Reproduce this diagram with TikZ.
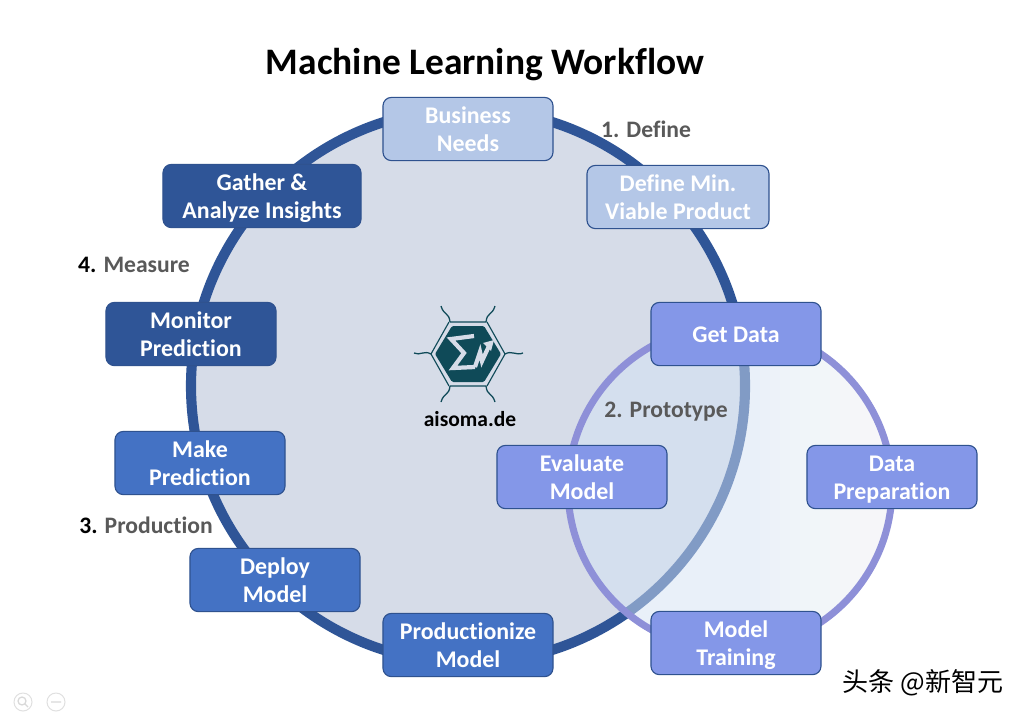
\documentclass[tikz,border=0pt]{standalone}
\usepackage{fontspec}
\setmainfont[Ligatures=NoCommon]{Carlito}
\newfontfamily\cjkfont{Noto Sans CJK SC}
\usetikzlibrary{positioning}
\definecolor{ringdark}{HTML}{2F5597}
\definecolor{bigfill}{HTML}{D6DCE8}
\definecolor{smallfill}{HTML}{D4E2F4}
\definecolor{ringlight}{HTML}{8E90D8}
\definecolor{stepedge}{HTML}{2F528F}
\definecolor{defstep}{HTML}{B4C7E7}
\definecolor{protostep}{HTML}{8497E8}
\definecolor{prodstep}{HTML}{4472C4}
\definecolor{measstep}{HTML}{2F5597}
\definecolor{phasegray}{HTML}{595959}
\definecolor{logoteal}{HTML}{0F4A58}
\tikzset{
  stepbox/.style={draw=stepedge,line width=0.8pt,rounded corners=6pt,minimum width=4.25cm,minimum height=1.58cm,
    inner sep=0pt,align=center,text=white,font=\fontsize{17}{20}\selectfont\bfseries,
    text height=32pt,text depth=0pt},
  phaselabel/.style={text=phasegray,inner sep=0pt,font=\fontsize{16.8}{20}\selectfont\bfseries},
}
\begin{document}
\begin{tikzpicture}[x=0.025cm,y=-0.025cm]
  \useasboundingbox (0,0) rectangle (1024,717);
  \fill[white] (0,0) rectangle (1024,717);

  \coordinate (bigc) at (468,386);
  \coordinate (smallc) at (730,488);

  % the two cycles
  \draw[ringdark,line width=7.2pt,fill=bigfill] (bigc) circle (277);
  \fill[smallfill,fill opacity=0.5] (smallc) circle (162);
  \begin{scope}
    \clip (smallc) circle (162);
    \foreach \xpos in {760,770,...,890}
      \fill[white,fill opacity=0.1] (\xpos,300) rectangle (900,680);
  \end{scope}
  \draw[ringlight,line width=5pt] (smallc) circle (162);

  \path
  (485,64.5) node[text=black,inner sep=0pt,font=\fontsize{26.6}{30}\selectfont\bfseries](title) {Machine Learning Workflow}
  (468,129) node[stepbox,fill=defstep](needs) {Business\\Needs}
  (678,197) node[stepbox,fill=defstep,minimum width=4.55cm](mvp) {Define Min.\\Viable Product}
  (736,334) node[stepbox,fill=protostep,text height=12.3pt](getdata) {Get Data}
  (892,477) node[stepbox,fill=protostep](dataprep) {Data\\Preparation}
  (736,643) node[stepbox,fill=protostep](training) {Model\\Training}
  (582,477) node[stepbox,fill=protostep](evaluate) {Evaluate\\Model}
  (468,645) node[stepbox,fill=prodstep](productionize) {Productionize\\Model}
  (275,580) node[stepbox,fill=prodstep](deploy) {Deploy\\Model}
  (200,463) node[stepbox,fill=prodstep](predict) {Make\\Prediction}
  (191,334) node[stepbox,fill=measstep](monitor) {Monitor\\Prediction}
  (262,196) node[stepbox,fill=measstep,minimum width=4.95cm](gather) {Gather \&\\Analyze Insights}
  (646,129) node[phaselabel](define) {1. Define}
  (666,412) node[phaselabel](prototype) {2. Prototype}
  (146,525) node[phaselabel](production) {\textcolor{black}{3.} Production}
  (134,265) node[phaselabel](measure) {\textcolor{black}{4.} Measure}
  (470,419) node[text=black,inner sep=0pt,font=\fontsize{15.3}{18}\selectfont\bfseries](site) {aisoma.de}
  (923,683) node[text=black,inner sep=0pt,font=\fontsize{18.5}{22}\selectfont\cjkfont](mark) {头条 @新智元}
  ;

  % logo
  \fill[logoteal,rounded corners=1pt] (435,354) -- (452,326) -- (484,326) -- (501,354) -- (484,382) -- (452,382) -- cycle;
  \draw[logoteal,line width=0.8pt]
    (450,322) -- (486,322) (505,354) -- (487,386) (486,386) -- (450,386) (431,354) -- (449,322)
    (431,354) -- (449,386) (505,354) -- (487,322);
  \draw[logoteal,line width=0.9pt]
    (450,322) .. controls (449,312) and (444,316) .. (441,306)
    (486,322) .. controls (487,312) and (492,316) .. (495,306)
    (450,386) .. controls (449,396) and (444,392) .. (441,402)
    (486,386) .. controls (487,396) and (492,392) .. (495,402)
    (431,354) .. controls (424,350) and (420,356) .. (414,353)
    (505,354) .. controls (512,350) and (516,356) .. (523,353);
  \draw[bigfill,line width=3pt,line join=miter]
    (474,336) -- (451,339) -- (464,353) -- (453,368) -- (475,367)
    (475,367) -- (480,352) -- (482,361) -- (489,346);
  \fill[bigfill] (494,340) -- (483,343) -- (491,351) -- cycle;

  % zoom buttons
  \draw[black!12,line width=0.7pt] (23,702) circle (9) (56,702) circle (9);
  \draw[black!15,line width=0.9pt] (22,701) circle (4) (25,704) -- (28,707) (51,702) -- (61,702);
\end{tikzpicture}
\end{document}
